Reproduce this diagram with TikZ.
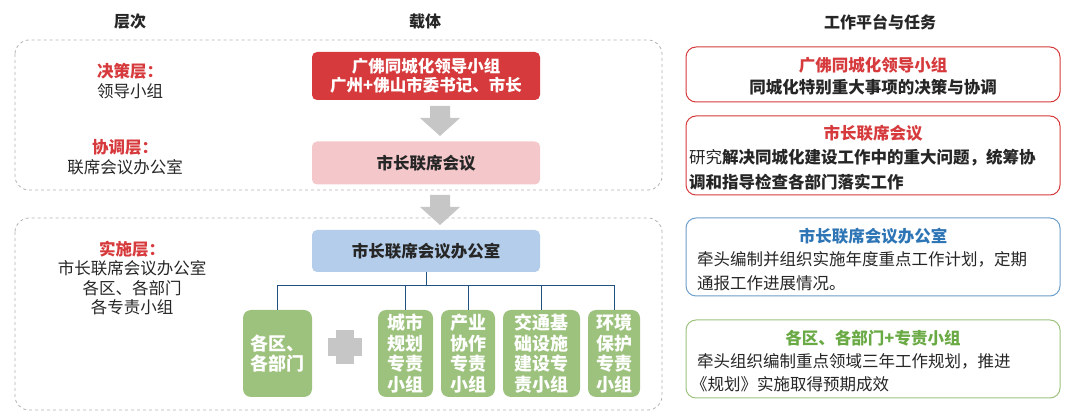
\documentclass[tikz,border=0pt]{standalone}
\usepackage{fontspec}
\setmainfont{Noto Sans CJK SC}
\usetikzlibrary{arrows.meta}
\definecolor{myred}{HTML}{D63A3C}
\definecolor{mypink}{HTML}{F4C8CB}
\definecolor{myblue}{HTML}{B4CDEA}
\definecolor{mygreen}{HTML}{9DC27E}
\definecolor{tgreen}{HTML}{6AAA45}
\definecolor{tblue}{HTML}{2E75B6}
\definecolor{dk}{HTML}{262626}
\tikzset{
 base/.style={font=\fontsize{16.5}{19}\selectfont, text=dk, inner sep=0pt},
 hdr/.style={font=\fontsize{16}{18}\selectfont\bfseries, text=dk},
 rt/.style={font=\fontsize{16.5}{19}\selectfont\bfseries},
 lbl/.style={font=\fontsize{16.5}{19.5}\selectfont, text=dk, align=center},
 dashbox/.style={draw=gray!60, dashed, rounded corners=14pt, line width=0.8pt},
 midbox/.style={rounded corners=5pt, minimum width=228pt, font=\fontsize{16.5}{19}\selectfont\bfseries, align=center},
 gbox/.style={fill=mygreen, rounded corners=8pt, minimum height=87pt, text=white, font=\fontsize{18}{20.5}\selectfont\bfseries, align=center, inner sep=1pt},
 rbox/.style={rounded corners=10pt, line width=1pt, fill=white},
 garrow/.style={fill=gray!45, draw=none},
 conn/.style={draw=tblue!70!black, line width=0.8pt}
}
\begin{document}
\begin{tikzpicture}[x=1pt,y=-1pt]
\useasboundingbox (0,0) rectangle (1080,419);
% headers
\node[hdr] (h1) at (130,22) {层次};
\node[hdr] (h2) at (425,22) {载体};
\node[hdr] (h3) at (880,22) {工作平台与任务};
% dashed boxes
\draw[dashbox] (15,40) rectangle (662,190);
\draw[dashbox] (15,218) rectangle (662,410);
% left labels
\node[lbl] (l1) at (130,81) {\textcolor{myred}{\bfseries 决策层：}\\领导小组};
\node[lbl] (l2) at (125,157) {\textcolor{myred}{\bfseries 协调层：}\\联席会议办公室};
\node[lbl] (l3) at (132,278) {\textcolor{myred}{\bfseries 实施层：}\\市长联席会议办公室\\各区、各部门\\各专责小组};
% middle boxes
\node[midbox, fill=myred, text=white, minimum height=48pt] (a) at (426,76) {广佛同城化领导小组\\广州+佛山市委书记、市长};
\node[midbox, fill=mypink, text=dk, minimum height=43pt] (b) at (426,163) {市长联席会议};
\node[midbox, fill=myblue, text=dk, minimum height=42pt] (c) at (426,251) {市长联席会议办公室};
% gray arrows
\fill[garrow] (430,106) -- (450,106) -- (450,118) -- (460,118) -- (440,136) -- (420,118) -- (430,118) -- cycle;
\fill[garrow] (430,195) -- (450,195) -- (450,207) -- (460,207) -- (440,225) -- (420,207) -- (430,207) -- cycle;
% green boxes
\node[gbox, minimum width=69pt] (g0) at (277.5,353.5) {各区、\\各部门};
\node[gbox, minimum width=55pt] (g1) at (405.5,353.5) {城市\\规划\\专责\\小组};
\node[gbox, minimum width=54pt] (g2) at (468,353.5) {产业\\协作\\专责\\小组};
\node[gbox, minimum width=77pt] (g3) at (541.5,353.5) {交通基\\础设施\\建设专\\责小组};
\node[gbox, minimum width=52pt] (g4) at (614,353.5) {环境\\保护\\专责\\小组};
\fill[gray!45] (336,330) rectangle (354,364);
\fill[gray!45] (328,338) rectangle (362,356);
% connectors
\coordinate (j) at (c.south |- 0,285);
\draw[conn] (c.south) -- (j);
\draw[conn] (g0.north |- j) -- (g4.north |- j);
\foreach \g in {g0,g1,g2,g3,g4} \draw[conn] (\g.north |- j) -- (\g.north);
% right boxes
\draw[rbox, draw=myred] (686,47) rectangle (1060,102);
\node[rt, text=myred] (r1t) at (873,65) {广佛同城化领导小组};
\node[rt, text=dk] (r1b) at (873,87) {同城化特别重大事项的决策与协调};
\draw[rbox, draw=myred] (686,116) rectangle (1060,195);
\node[rt, text=myred] (r2t) at (873,133) {市长联席会议};
\node[base, anchor=west] (r2a) at (689,158) {研究\textbf{解决同城化建设工作中的重大问题，统筹协}};
\node[base, anchor=west] (r2b) at (689,182) {\textbf{调和指导检查各部门落实工作}};
\draw[rbox, draw=tblue!70] (686,218) rectangle (1060,296);
\node[rt, text=tblue] (r3t) at (873,236) {市长联席会议办公室};
\node[base, anchor=west] (r3a) at (697,259) {牵头编制并组织实施年度重点工作计划，定期};
\node[base, anchor=west] (r3b) at (697,283) {通报工作进展情况。};
\draw[rbox, draw=mygreen] (686,320) rectangle (1060,398);
\node[rt, text=tgreen] (r4t) at (873,338) {各区、各部门+专责小组};
\node[base, anchor=west] (r4a) at (697,361) {牵头组织编制重点领域三年工作规划，推进};
\node[base, anchor=west] (r4b) at (691,384) {《规划》实施取得预期成效};
\end{tikzpicture}
\end{document}
